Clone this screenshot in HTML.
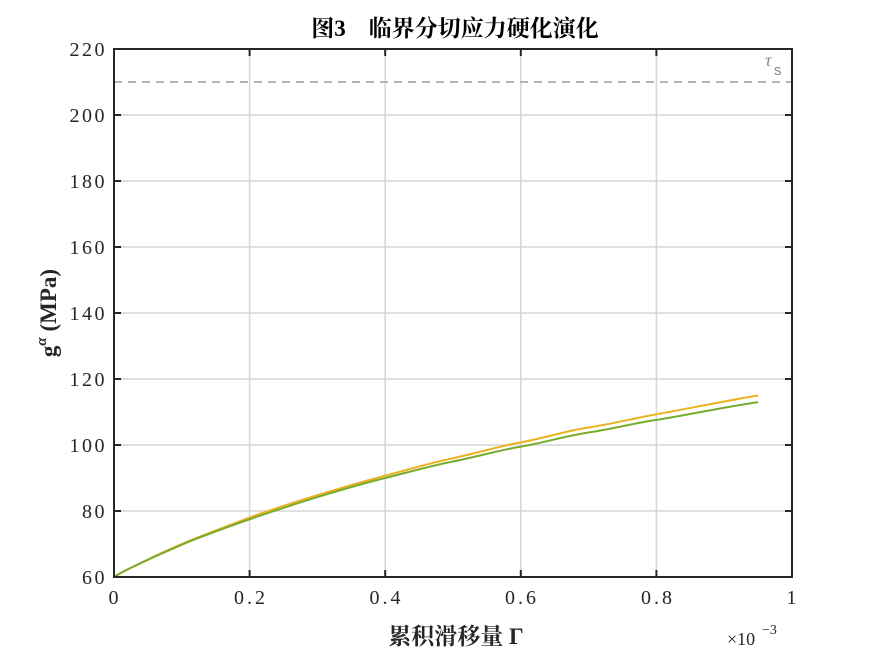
<!DOCTYPE html>
<html><head><meta charset="utf-8"><style>body{margin:0;background:#fff}svg{display:block}</style></head><body>
<svg width="875" height="656" viewBox="0 0 875 656" xmlns="http://www.w3.org/2000/svg">
<rect width="875" height="656" fill="#fff"/>
<g stroke="#d6d6d6" stroke-width="1.5">
<line x1="249.6" y1="49" x2="249.6" y2="577"/><line x1="385.2" y1="49" x2="385.2" y2="577"/><line x1="520.8" y1="49" x2="520.8" y2="577"/><line x1="656.4" y1="49" x2="656.4" y2="577"/>
<line x1="114" y1="511" x2="792" y2="511"/><line x1="114" y1="445" x2="792" y2="445"/><line x1="114" y1="379" x2="792" y2="379"/><line x1="114" y1="313" x2="792" y2="313"/><line x1="114" y1="247" x2="792" y2="247"/><line x1="114" y1="181" x2="792" y2="181"/><line x1="114" y1="115" x2="792" y2="115"/>
</g>
<line x1="114" y1="82" x2="792" y2="82" stroke="#b4b4b4" stroke-width="2" stroke-dasharray="8,6"/>
<text x="765" y="66" font-family="Liberation Serif,serif" font-style="italic" font-size="18" fill="#888">τ</text>
<text x="774" y="75" font-family="Liberation Sans,sans-serif" font-size="15" fill="#888">s</text>
<path fill="none" stroke="#EDB120" stroke-width="2" d="M114,577 C125,570 137,565 147.9,559.5 S170,549 181.8,544 S230,525 249.6,517.6 S295,502 317.4,495.2 S365,481 385.2,475.7 S430,463 453,458.2 S500,446 520.8,442.4 S565,431 588.6,427.5 S635,418 656.4,414.3 S730,400 758.1,395.5"/>
<path fill="none" stroke="#77AC30" stroke-width="2" d="M114,577 C125,570 137,565 147.9,559.8 S170,550 181.8,544.7 S230,526 249.6,519.25 S295,504 317.4,497.1 S365,483 385.2,478 S430,466 453,461.5 S500,450 520.8,446.65 S565,436 588.6,432.5 S635,423 656.4,419.9 S730,406 758.1,402.1"/>
<rect x="114" y="49" width="678" height="528" fill="none" stroke="#262626" stroke-width="2"/>
<g stroke="#262626" stroke-width="2">
<line x1="249.6" y1="577" x2="249.6" y2="570"/><line x1="385.2" y1="577" x2="385.2" y2="570"/><line x1="520.8" y1="577" x2="520.8" y2="570"/><line x1="656.4" y1="577" x2="656.4" y2="570"/>
<line x1="249.6" y1="49" x2="249.6" y2="56"/><line x1="385.2" y1="49" x2="385.2" y2="56"/><line x1="520.8" y1="49" x2="520.8" y2="56"/><line x1="656.4" y1="49" x2="656.4" y2="56"/>
<line x1="114" y1="511" x2="121" y2="511"/><line x1="114" y1="445" x2="121" y2="445"/><line x1="114" y1="379" x2="121" y2="379"/><line x1="114" y1="313" x2="121" y2="313"/><line x1="114" y1="247" x2="121" y2="247"/><line x1="114" y1="181" x2="121" y2="181"/><line x1="114" y1="115" x2="121" y2="115"/>
<line x1="792" y1="511" x2="785" y2="511"/><line x1="792" y1="445" x2="785" y2="445"/><line x1="792" y1="379" x2="785" y2="379"/><line x1="792" y1="313" x2="785" y2="313"/><line x1="792" y1="247" x2="785" y2="247"/><line x1="792" y1="181" x2="785" y2="181"/><line x1="792" y1="115" x2="785" y2="115"/>
</g>
<g font-family="Liberation Serif,serif" font-size="20" fill="#262626" text-anchor="end" letter-spacing="2.5">
<text x="107" y="584">60</text><text x="107" y="518">80</text><text x="107" y="452">100</text><text x="107" y="386">120</text><text x="107" y="320">140</text><text x="107" y="254">160</text><text x="107" y="188">180</text><text x="107" y="122">200</text><text x="107" y="56">220</text>
</g>
<g font-family="Liberation Serif,serif" font-size="20" fill="#262626" text-anchor="middle" letter-spacing="3">
<text x="115" y="604">0</text><text x="251" y="604">0.2</text><text x="386.5" y="604">0.4</text><text x="522" y="604">0.6</text><text x="658" y="604">0.8</text><text x="793" y="604">1</text>
</g>
<text x="727" y="645" font-family="Liberation Serif,serif" font-size="18" fill="#262626">×10</text>
<text x="762" y="634" font-family="Liberation Serif,serif" font-size="14" fill="#262626">−3</text>
<text x="456" y="644" text-anchor="middle" font-family="Liberation Serif,'Noto Serif CJK SC',serif" font-weight="bold" font-size="23" fill="#262626">累积滑移量  Γ</text>
<text x="455" y="36" text-anchor="middle" font-family="Liberation Serif,'Noto Serif CJK SC',serif" font-weight="bold" font-size="23" fill="#000">图3　临界分切应力硬化演化</text>
<text transform="translate(56,313) rotate(-90)" text-anchor="middle" font-family="Liberation Serif,serif" font-weight="bold" font-size="23" fill="#262626">g<tspan dy="-10" font-size="15" font-style="italic">α</tspan><tspan dy="10">  (MPa)</tspan></text>
</svg>
</body></html>
